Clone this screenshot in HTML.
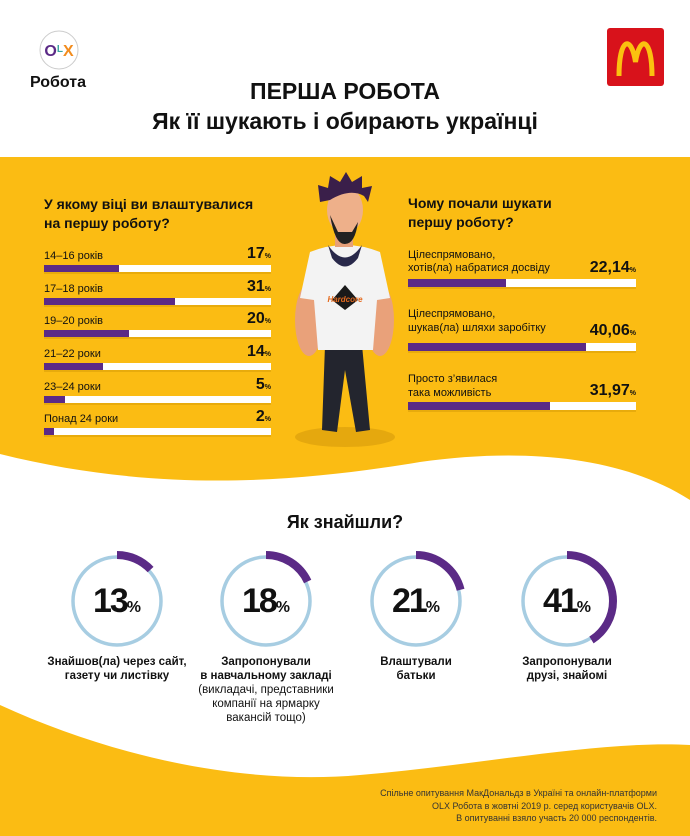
<!DOCTYPE html>
<html><head><meta charset="utf-8"><style>
html,body{margin:0;padding:0;background:#fff}
body{width:690px;height:836px;position:relative;overflow:hidden;font-family:"Liberation Sans","DejaVu Sans",sans-serif;color:#111}
.a{position:absolute;white-space:nowrap}
.b{font-weight:bold}
</style></head><body>
<svg class="a" style="left:0;top:0" width="690" height="836" viewBox="0 0 690 836">
<path d="M0,157 H690 V500 C620,455 520,448 420,462 C300,482 160,494 0,454 Z" fill="#fbbc13"/>
<path d="M0,705 C120,760 250,785 360,775 C480,765 600,740 690,745 V836 H0 Z" fill="#fbbc13"/>
<g fill="#fff">
<rect x="44" y="265" width="227" height="7"/><rect x="44" y="298" width="227" height="7"/>
<rect x="44" y="330" width="227" height="7"/><rect x="44" y="363" width="227" height="7"/>
<rect x="44" y="396" width="227" height="7"/><rect x="44" y="428" width="227" height="7"/>
<rect x="408" y="279" width="228" height="8"/><rect x="408" y="343" width="228" height="8"/>
<rect x="408" y="402" width="228" height="8"/>
</g>
<g fill="#e8ab0c">
<rect x="44" y="272" width="227" height="2"/><rect x="44" y="305" width="227" height="2"/>
<rect x="44" y="337" width="227" height="2"/><rect x="44" y="370" width="227" height="2"/>
<rect x="44" y="403" width="227" height="2"/><rect x="44" y="435" width="227" height="2"/>
<rect x="408" y="287" width="228" height="2"/><rect x="408" y="351" width="228" height="2"/>
<rect x="408" y="410" width="228" height="2"/>
</g>
<g fill="#5b2a86">
<rect x="44" y="265" width="75" height="7"/><rect x="44" y="298" width="131" height="7"/>
<rect x="44" y="330" width="85" height="7"/><rect x="44" y="363" width="59" height="7"/>
<rect x="44" y="396" width="21" height="7"/><rect x="44" y="428" width="10" height="7"/>
<rect x="408" y="279" width="98" height="8"/><rect x="408" y="343" width="178" height="8"/>
<rect x="408" y="402" width="142" height="8"/>
</g>
<circle cx="59" cy="50" r="19" fill="#fff" stroke="#ccc" stroke-width="1"/>
<text x="59" y="56" text-anchor="middle" font-family="Liberation Sans" font-weight="bold" font-size="16"><tspan fill="#5b2a86">O</tspan><tspan fill="#3aa6a0" font-size="10" dy="-4">L</tspan><tspan fill="#f28c1e" dy="4">X</tspan></text>
<rect x="607" y="28" width="57" height="58" rx="3" fill="#d8121b"/>
<path d="M619,76 C619,38 631,34 635.5,62 C640,34 652,38 652,76" fill="none" stroke="#fbc10f" stroke-width="5"/>
<ellipse cx="345" cy="437" rx="50" ry="10" fill="#e5a80e"/>
<path d="M325,345 L362,345 L370,430 L356,432 L345,370 L337,432 L322,430 Z" fill="#23252e"/>
<ellipse cx="309" cy="320" rx="14" ry="36" fill="#e9a17a"/>
<ellipse cx="380" cy="320" rx="14" ry="36" fill="#e9a17a"/>
<path d="M310,252 Q345,238 380,252 L390,298 L377,300 L373,350 L318,350 L314,300 L300,298 Z" fill="#f3f3f3"/>
<rect x="335" y="225" width="18" height="22" fill="#e6a07a"/>
<path d="M328,245 Q345,270 362,245 L358,258 Q345,275 332,258 Z" fill="#28284a"/>
<ellipse cx="345" cy="210" rx="18" ry="24" fill="#eeb08a"/>
<path d="M330,215 Q335,245 345,244 Q355,244 358,222 L352,232 L338,232 Z" fill="#222"/>
<path d="M320,202 L318,185 L328,188 L330,176 L340,182 L346,172 L352,182 L362,176 L362,188 L372,186 L368,202 L364,196 Q350,188 330,200 Z" fill="#3a1f4a"/>
<path d="M332,300 L345,285 L358,300 L345,310 Z" fill="#1a1a1a"/>
<text x="345" y="302" text-anchor="middle" font-size="8" font-style="italic" font-weight="bold" fill="#e46a1e" font-family="Liberation Sans">Hardcore</text>
<g fill="none">
<circle cx="117" cy="601" r="44" stroke="#a7cde2" stroke-width="3.5"/>
<circle cx="266" cy="601" r="44" stroke="#a7cde2" stroke-width="3.5"/>
<circle cx="416" cy="601" r="44" stroke="#a7cde2" stroke-width="3.5"/>
<circle cx="567" cy="601" r="44" stroke="#a7cde2" stroke-width="3.5"/>
<g stroke="#5b2a86" stroke-width="8">
<circle cx="117" cy="601" r="46" transform="rotate(-90 117 601)" stroke-dasharray="37.6 1000"/>
<circle cx="266" cy="601" r="46" transform="rotate(-90 266 601)" stroke-dasharray="52 1000"/>
<circle cx="416" cy="601" r="46" transform="rotate(-90 416 601)" stroke-dasharray="60.7 1000"/>
<circle cx="567" cy="601" r="46" transform="rotate(-90 567 601)" stroke-dasharray="118.5 1000"/>
</g></g>
</svg>

<div class="a b" style="left:30px;top:74px;font-size:16px">Робота</div>
<div class="a b" style="left:0;width:690px;text-align:center;top:76px;font-size:23px;line-height:30px">ПЕРША РОБОТА<br>Як її шукають і обирають українці</div>

<div class="a b" style="left:44px;top:195px;font-size:14px;line-height:19px">У якому віці ви влаштувалися<br>на першу роботу?</div>
<div class="a" style="left:44px;top:248px;font-size:11px;line-height:16px">14–16 років</div>
<div class="a" style="left:44px;top:281px;font-size:11px;line-height:16px">17–18 років</div>
<div class="a" style="left:44px;top:313px;font-size:11px;line-height:16px">19–20 років</div>
<div class="a" style="left:44px;top:346px;font-size:11px;line-height:16px">21–22 роки</div>
<div class="a" style="left:44px;top:379px;font-size:11px;line-height:16px">23–24 роки</div>
<div class="a" style="left:44px;top:411px;font-size:11px;line-height:16px">Понад 24 роки</div>
<div class="a b" style="right:419px;top:245px;font-size:16px;line-height:18px">17<span style="font-size:7px">%</span></div>
<div class="a b" style="right:419px;top:278px;font-size:16px;line-height:18px">31<span style="font-size:7px">%</span></div>
<div class="a b" style="right:419px;top:310px;font-size:16px;line-height:18px">20<span style="font-size:7px">%</span></div>
<div class="a b" style="right:419px;top:343px;font-size:16px;line-height:18px">14<span style="font-size:7px">%</span></div>
<div class="a b" style="right:419px;top:376px;font-size:16px;line-height:18px">5<span style="font-size:7px">%</span></div>
<div class="a b" style="right:419px;top:408px;font-size:16px;line-height:18px">2<span style="font-size:7px">%</span></div>

<div class="a b" style="left:408px;top:194px;font-size:14px;line-height:19px">Чому почали шукати<br>першу роботу?</div>
<div class="a" style="left:408px;top:249px;font-size:11px;line-height:13px">Цілеспрямовано,<br>хотів(ла) набратися досвіду</div>
<div class="a" style="left:408px;top:307px;font-size:11px;line-height:14px">Цілеспрямовано,<br>шукав(ла) шляхи заробітку</div>
<div class="a" style="left:408px;top:372px;font-size:11px;line-height:14px">Просто з’явилася<br>така можливість</div>
<div class="a b" style="right:54px;top:259px;font-size:16px;line-height:18px">22,14<span style="font-size:7px">%</span></div>
<div class="a b" style="right:54px;top:322px;font-size:16px;line-height:18px">40,06<span style="font-size:7px">%</span></div>
<div class="a b" style="right:54px;top:382px;font-size:16px;line-height:18px">31,97<span style="font-size:7px">%</span></div>

<div class="a b" style="left:0;width:690px;text-align:center;top:512px;font-size:18px">Як знайшли?</div>
<div class="a b" style="left:57px;width:120px;text-align:center;top:582px;font-size:34px;line-height:38px;letter-spacing:-2px">13<span style="font-size:16px;letter-spacing:0">%</span></div>
<div class="a b" style="left:206px;width:120px;text-align:center;top:582px;font-size:34px;line-height:38px;letter-spacing:-2px">18<span style="font-size:16px;letter-spacing:0">%</span></div>
<div class="a b" style="left:356px;width:120px;text-align:center;top:582px;font-size:34px;line-height:38px;letter-spacing:-2px">21<span style="font-size:16px;letter-spacing:0">%</span></div>
<div class="a b" style="left:507px;width:120px;text-align:center;top:582px;font-size:34px;line-height:38px;letter-spacing:-2px">41<span style="font-size:16px;letter-spacing:0">%</span></div>

<div class="a b" style="left:17px;width:200px;text-align:center;top:655px;font-size:11.5px;line-height:14px">Знайшов(ла) через сайт,<br>газету чи листівку</div>
<div class="a" style="left:166px;width:200px;text-align:center;top:655px;font-size:11.5px;line-height:14px"><b>Запропонували<br>в навчальному закладі</b><br>(викладачі, представники<br>компанії на ярмарку<br>вакансій тощо)</div>
<div class="a b" style="left:316px;width:200px;text-align:center;top:655px;font-size:11.5px;line-height:14px">Влаштували<br>батьки</div>
<div class="a b" style="left:467px;width:200px;text-align:center;top:655px;font-size:11.5px;line-height:14px">Запропонували<br>друзі, знайомі</div>

<div class="a" style="right:33px;top:787px;font-size:9px;line-height:12.5px;text-align:right;color:#333">Спільне опитування МакДональдз в Україні та онлайн-платформи<br>OLX Робота в жовтні 2019 р. серед користувачів OLX.<br>В опитуванні взяло участь 20 000 респондентів.</div>
</body></html>
